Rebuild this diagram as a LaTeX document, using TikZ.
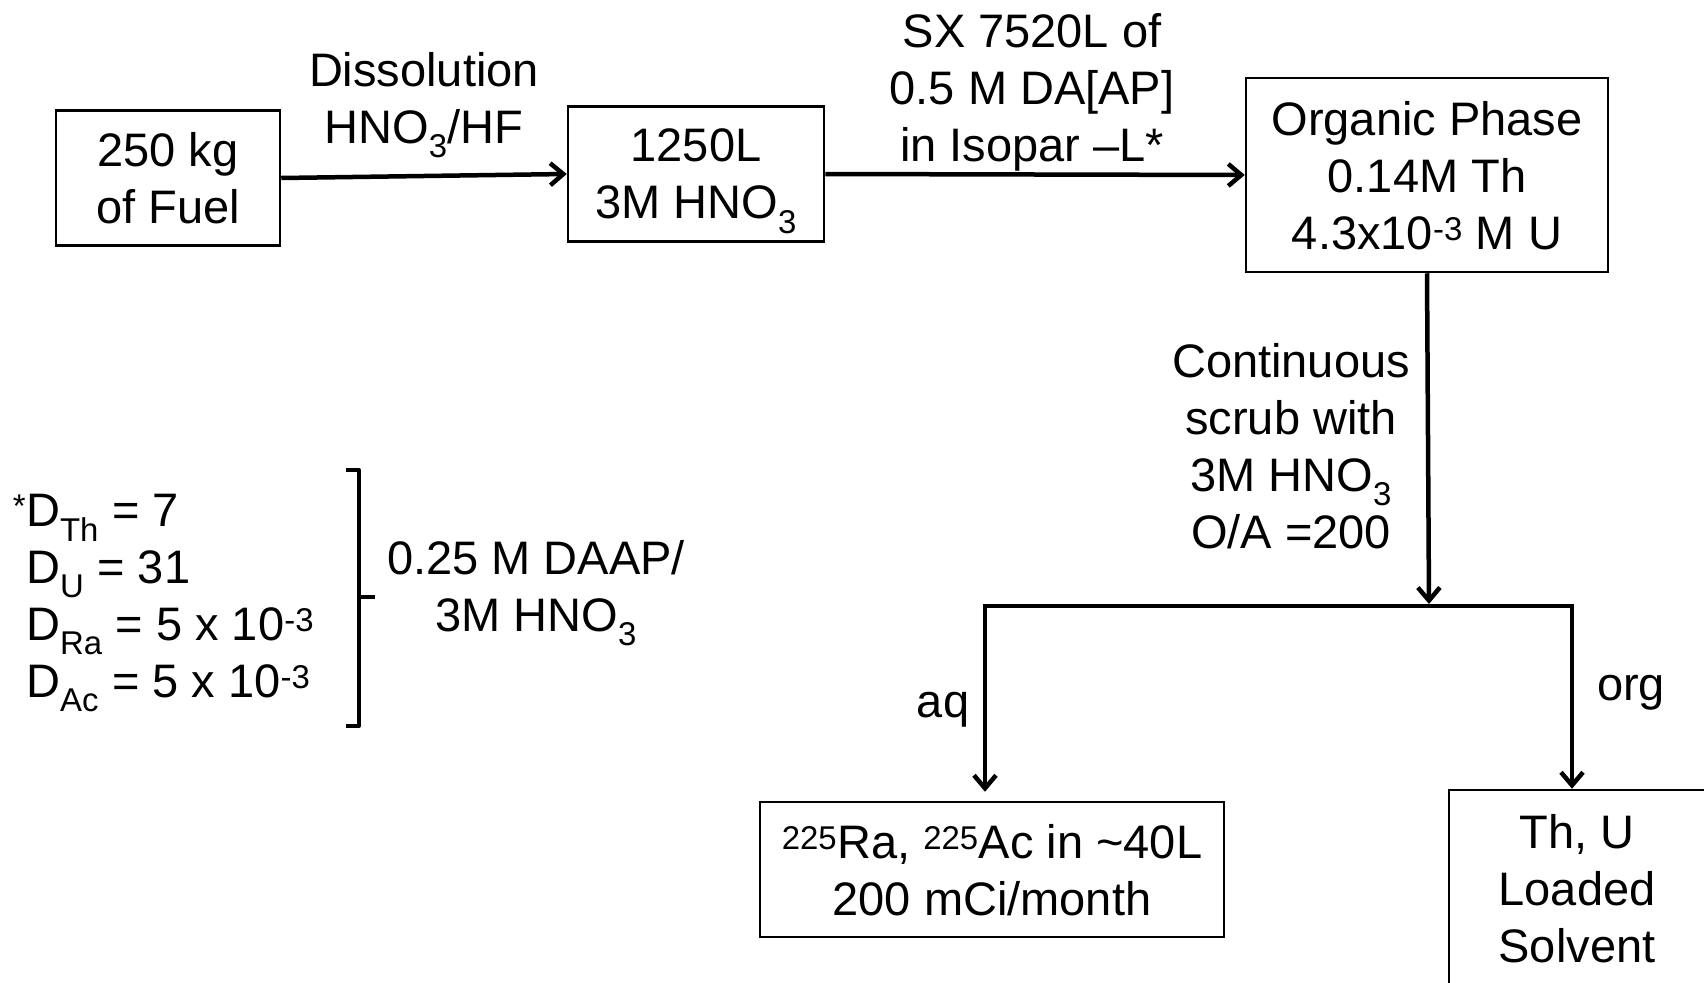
\documentclass[tikz,border=0pt]{standalone}
\usepackage{fontspec}
\setmainfont{Liberation Sans}
\usetikzlibrary{positioning, arrows.meta}
\tikzset{barb/.tip={Straight Barb[length=13pt, width=22pt]}}

\begin{document}
\begin{tikzpicture}[x=1pt, y=-1pt, font=\fontsize{47}{57}\selectfont,
    procbox/.style={draw, line width=2.5pt, align=center, inner sep=0pt, text depth=0pt},
    flowtext/.style={align=center, inner sep=0pt, text depth=0pt},
    flowline/.style={line width=4.5pt}]
    \useasboundingbox (0,0) rectangle (1704,982);
    \clip (0,0) rectangle (1704,982);

    \node[procbox, minimum width=224pt, minimum height=135pt] (fuel) at (168,178) {250 kg\\of Fuel};
    \node[procbox, minimum width=256pt, minimum height=135pt] (acid) at (696,174) {1250L\\3M HNO\textsubscript{3}};
    \node[procbox, minimum width=362pt, minimum height=194pt] (org) at (1427,175) {Organic Phase\\0.14M Th\\4.3x10\textsuperscript{-3} M U};
    \node[procbox, minimum width=464pt, minimum height=135pt] (ra) at (992,869.5) {\textsuperscript{225}Ra, \textsuperscript{225}Ac in \textasciitilde40L\\200 mCi/month};
    \node[procbox, minimum width=256pt, minimum height=196pt] (thu) at (1577,888) {Th, U\\Loaded\\Solvent};

    \node[flowtext] (diss) at (424,98) {Dissolution\\HNO\textsubscript{3}/HF};
    \node[flowtext] (sx) at (1032,87) {SX 7520L of\\0.5 M DA[AP]\\in Isopar –L*};
    \node[flowtext] (scrub) at (1291,445.5) {Continuous\\scrub with\\3M HNO\textsubscript{3}\\O/A =200};
    \node[flowtext, anchor=base] (aq) at (943,717) {aq};
    \node[flowtext, anchor=base] (orglbl) at (1631,700) {org};

    \node[flowtext, align=left, anchor=west] (dvals) at (26,595.5) {\llap{\textsuperscript{*}}D\textsubscript{Th} = 7\\D\textsubscript{U} = 31\\D\textsubscript{Ra} = 5 x 10\textsuperscript{-3}\\D\textsubscript{Ac} = 5 x 10\textsuperscript{-3}};
    \node[flowtext] (daap) at (536,586) {0.25 M DAAP/\\3M HNO\textsubscript{3}};

    \coordinate (split) at (1429,604);
    \coordinate (aqtop) at (985,606);
    \coordinate (orgtop) at (1572,606);

    \draw[flowline, -barb] (fuel.east) -- (acid.west);
    \draw[flowline, -barb] (acid.east) -- (org.west);
    \draw[flowline, -barb] (org.south) -- (split);
    \draw[flowline, barb-barb, shorten >=9pt] (thu.north -| orgtop) -- (orgtop) -- (aqtop) -- (aqtop |- ra.north);

    \draw[line width=4pt, line join=round] (346,470) -- (359,470) -- (359,726) -- (346,726);
    \draw[line width=4.5pt] (359,597) -- (375,597);
\end{tikzpicture}
\end{document}
